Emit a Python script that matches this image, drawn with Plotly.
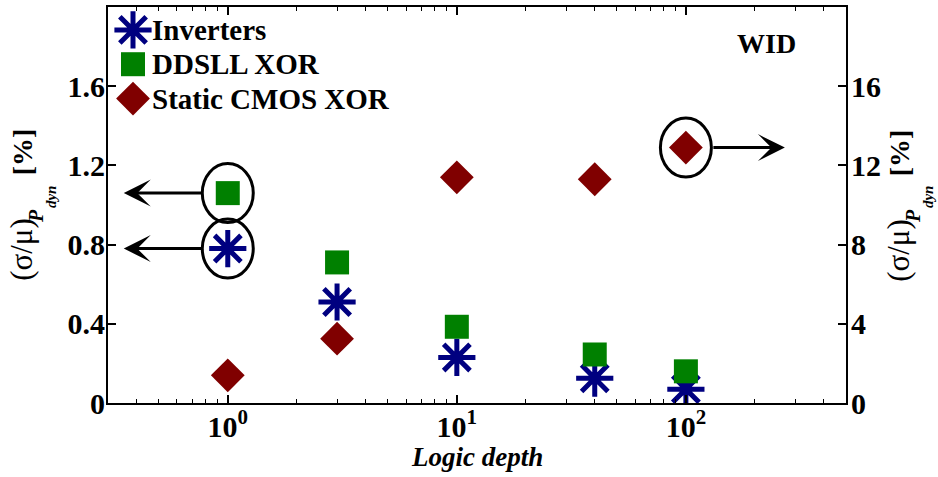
import math
import plotly.graph_objects as go

# ---- data ---------------------------------------------------------------
logic_depth = [1, 3, 10, 40, 100]
inverters = [0.78, 0.51, 0.23, 0.125, 0.07]          # left axis, %
ddsll_xor = [1.06, 0.71, 0.385, 0.245, 0.16]         # left axis, %
static_cmos_xor = [1.4, 3.25, 11.4, 11.3, 12.9]      # right axis, %

series_names = ["Inverters", "DDSLL XOR", "Static CMOS XOR"]

x_range = [0.3, 500]
x_tickvals = [1, 10, 100]
x_ticktext = ["10<sup>0</sup>", "10<sup>1</sup>", "10<sup>2</sup>"]
x_minor_ticks = [0.3, 0.4, 0.5, 0.6, 0.7, 0.8, 0.9,
                 2, 3, 4, 5, 6, 7, 8, 9,
                 20, 30, 40, 50, 60, 70, 80, 90,
                 200, 300, 400, 500]
y_left_ticks = [0, 0.4, 0.8, 1.2, 1.6]
y_left_text = ["0", "0.4", "0.8", "1.2", "1.6"]
y_right_ticks = [0, 4, 8, 12, 16]
y_right_text = ["0", "4", "8", "12", "16"]

# ---- styling ------------------------------------------------------------
FONT = "Liberation Serif"
NAVY = "#000080"
GREEN = "#008000"
MAROON = "#800000"

W, H = 938, 477
ML, MR, MT, MB = 108, 92, 5, 74
PX0, PX1 = ML, W - MR          # plot area in page pixels
PY0, PY1 = H - MB, MT


def paper_x(px):
    return (px - PX0) / (PX1 - PX0)


def paper_y(py):
    return (PY0 - py) / (PY0 - PY1)


def x_domain_frac(xv):
    lo, hi = math.log10(x_range[0]), math.log10(x_range[1])
    return (math.log10(xv) - lo) / (hi - lo)


fig = go.Figure()

fig.add_trace(go.Scatter(
    x=logic_depth, y=inverters, mode="markers", name=series_names[0],
    marker=dict(symbol="asterisk-open", size=31, color=NAVY, opacity=1,
                line=dict(width=5, color=NAVY)),
    xaxis="x", yaxis="y"))
fig.add_trace(go.Scatter(
    x=logic_depth, y=ddsll_xor, mode="markers", name=series_names[1],
    marker=dict(symbol="square", size=24, color=GREEN, opacity=1, line=dict(width=0)),
    xaxis="x", yaxis="y"))
fig.add_trace(go.Scatter(
    x=logic_depth, y=static_cmos_xor, mode="markers", name=series_names[2],
    marker=dict(symbol="diamond", size=26, color=MAROON, opacity=1, line=dict(width=0)),
    xaxis="x", yaxis="y2"))

# ---- hand-drawn legend on a pixel overlay axis --------------------------
LEG_X, LEG_Y0, LEG_DY, LEG_TXT = 133, 28, 34.5, 150
leg_y = [LEG_Y0 + i * LEG_DY for i in range(3)]
fig.add_trace(go.Scatter(
    x=[LEG_X] * 3, y=leg_y, mode="markers", hoverinfo="skip",
    marker=dict(symbol=["asterisk-open", "square", "diamond"], opacity=1,
                size=[31, 24, 26], color=[NAVY, GREEN, MAROON],
                line=dict(width=[5, 0, 0], color=[NAVY, GREEN, MAROON])),
    xaxis="x3", yaxis="y3", cliponaxis=False))

annotations = []


def text_at(px, py, text, size, weight="normal", style="normal", angle=0,
            xanchor="center"):
    annotations.append(dict(
        x=paper_x(px), y=paper_y(py), xref="paper", yref="paper", text=text,
        showarrow=False, xanchor=xanchor, yanchor="middle", textangle=angle,
        font=dict(family=FONT, size=size, color="black", weight=weight, style=style)))


for name, yy in zip(series_names, leg_y):
    text_at(LEG_TXT, yy, name, 29, weight="bold", xanchor="left")

text_at(766, 42, "WID", 28, weight="bold")
text_at((PX0 + PX1) / 2, 457, "Logic depth", 27, weight="bold", style="italic")

# y-axis titles: (σ/μ)_{P_dyn} [%], built from pieces read bottom-to-top
title_pieces = [
    # text, x-centre, y-centre, size, weight, style
    ("(σ/μ)", 22, 249, 31, "normal", "normal"),
    ("P", 36, 215, 20, "bold", "italic"),
    ("dyn", 51, 196, 15, "bold", "italic"),
    ("[%]", 22, 151, 28, "bold", "normal"),
]
for dx in (0, 877):
    for txt, cx, cy, sz, wt, st in title_pieces:
        text_at(cx + dx, cy, txt, sz, weight=wt, style=st, angle=-90)

# ---- circled points with arrows pointing to their axis ------------------
circled = [
    (logic_depth[0], inverters[0], "y", -104, 80),
    (logic_depth[0], ddsll_xor[0], "y", -104, 80),
    (logic_depth[-1], static_cmos_xor[-1], "y2", 99, -73),
]
shapes = []
for xv, yv, yref, shift, tail in circled:
    shapes.append(dict(
        type="circle", xref="x domain", yref=yref,
        xsizemode="pixel", ysizemode="pixel",
        xanchor=x_domain_frac(xv), yanchor=yv,
        x0=-25.5, x1=25.5, y0=-29.5, y1=29.5,
        line=dict(color="black", width=3)))
    annotations.append(dict(
        x=math.log10(xv), y=yv, xref="x", yref=yref, text="", showarrow=True,
        xshift=shift, ax=tail, ay=0,
        arrowhead=3, arrowsize=1.5, arrowwidth=3, arrowcolor="black",
        standoff=0, startstandoff=0))

tickfont = dict(family=FONT, size=30, color="black", weight="bold")
axis_common = dict(showgrid=False, zeroline=False, showline=True,
                   linecolor="black", linewidth=2, ticks="inside",
                   tickcolor="black", tickwidth=1.5, ticklen=8, tickfont=tickfont)

fig.update_layout(
    width=W, height=H, margin=dict(l=ML, r=MR, t=MT, b=MB),
    paper_bgcolor="white", plot_bgcolor="white", showlegend=False,
    xaxis=dict(type="log", range=[math.log10(v) for v in x_range],
               tickmode="array", tickvals=x_tickvals, ticktext=x_ticktext,
               mirror="ticks", ticklabelstandoff=-4,
               minor=dict(tickmode="array", tickvals=x_minor_ticks, ticks="inside",
                          ticklen=4, tickcolor="black", tickwidth=1.2, showgrid=False),
               **axis_common),
    yaxis=dict(range=[0, 2], tickmode="array", tickvals=y_left_ticks,
               ticktext=y_left_text, ticklabelstandoff=-5, **axis_common),
    yaxis2=dict(range=[0, 20], overlaying="y", side="right", anchor="x",
                tickmode="array", tickvals=y_right_ticks, ticktext=y_right_text,
                ticklabelstandoff=-3, **axis_common),
    xaxis3=dict(range=[PX0, PX1], overlaying="x", anchor="y3", visible=False),
    yaxis3=dict(range=[PY0, PY1], overlaying="y", anchor="x3", visible=False),
    shapes=shapes, annotations=annotations,
)

fig.write_html("out.html")
